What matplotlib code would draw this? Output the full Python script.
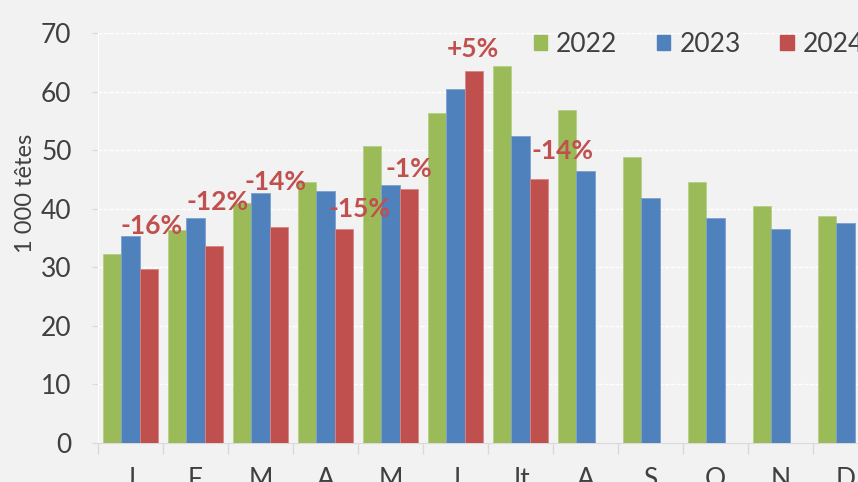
import numpy as np
import matplotlib.pyplot as plt
from matplotlib.patches import Patch

mois = ["J", "F", "M", "A", "M", "J", "Jt", "A", "S", "O", "N", "D"]
v2022 = [32.2, 36.4, 40.9, 44.6, 50.7, 56.4, 64.3, 56.9, 48.8, 44.6, 40.4, 38.7]
v2023 = [35.4, 38.4, 42.7, 43.0, 44.0, 60.5, 52.4, 46.4, 41.8, 38.5, 36.5, 37.5]
v2024 = [29.7, 33.6, 36.8, 36.5, 43.3, 63.5, 45.1]
variations = ["-16%", "-12%", "-14%", "-15%", "-1%", "+5%", "-14%"]

# décalage des étiquettes (pixels) par rapport au haut de la barre 2024
decalages = [(3, 43), (4, 44), (-3, 45), (16, 20), (0, 20), (-1, 22), (24, 28)]

vert = "#9BBB59"
bleu = "#4F81BD"
rouge = "#C0504D"
fond = "#F2F2F2"
gris = "#404040"

plt.rcParams["font.family"] = ["Lato", "DejaVu Sans"]

fig = plt.figure(figsize=(8.58, 4.82), dpi=100, facecolor=fond)
ax = fig.add_axes([98 / 858, 39 / 482, 780 / 858, 410 / 482])
ax.set_facecolor(fond)

x = np.arange(len(mois))
w = 0.282
ax.bar(x - w, v2022, w, color=vert, edgecolor="#b5cf86", linewidth=0.6, zorder=3)
ax.bar(x, v2023, w, color=bleu, edgecolor="#7da1d4", linewidth=0.6, zorder=3)
x24 = x[:len(v2024)] + w
ax.bar(x24, v2024, w, color=rouge, edgecolor="#d88684", linewidth=0.6, zorder=3)

for xi, yi, txt, (dx, dy) in zip(x24, v2024, variations, decalages):
    ax.annotate(txt, (xi, yi), xytext=(dx, dy), textcoords="offset pixels",
                ha="center", va="center", color=rouge, fontsize=19,
                fontweight="bold", zorder=5)

ax.set_xlim(-0.5, 11.5)
ax.set_ylim(0, 70)
ax.set_yticks(range(0, 71, 10))
ax.set_xticks(x)
ax.set_xticklabels(mois)
ax.set_xticks(np.arange(-0.5, 12, 1), minor=True)
ax.tick_params(axis="x", which="major", length=0, pad=17, labelsize=19, labelcolor=gris)
ax.tick_params(axis="x", which="minor", length=8, color="#d9d9d9", width=1)
ax.tick_params(axis="y", length=4, color="#d9d9d9", pad=15, labelsize=19, labelcolor=gris)

ax.grid(axis="y", color="white", linestyle=(0, (3, 1)), linewidth=1, zorder=0)
for s in ["top", "right"]:
    ax.spines[s].set_visible(False)
ax.spines["left"].set_color("white")
ax.spines["bottom"].set_color("#d9d9d9")

ax.set_ylabel("1 000 têtes", fontsize=17, color=gris)
ax.yaxis.set_label_coords(-0.0795, 0.61)

handles = [Patch(color=vert), Patch(color=bleu), Patch(color=rouge)]
ax.legend(handles, ["2022", "2023", "2024"], ncol=3, frameon=False,
          fontsize=19, labelcolor=gris, handlelength=0.5, handleheight=0.5,
          handletextpad=0.35, columnspacing=1.5,
          loc="upper left", bbox_to_anchor=(0.528, 1.06))

fig.savefig("out.png", dpi=100, facecolor=fond)
